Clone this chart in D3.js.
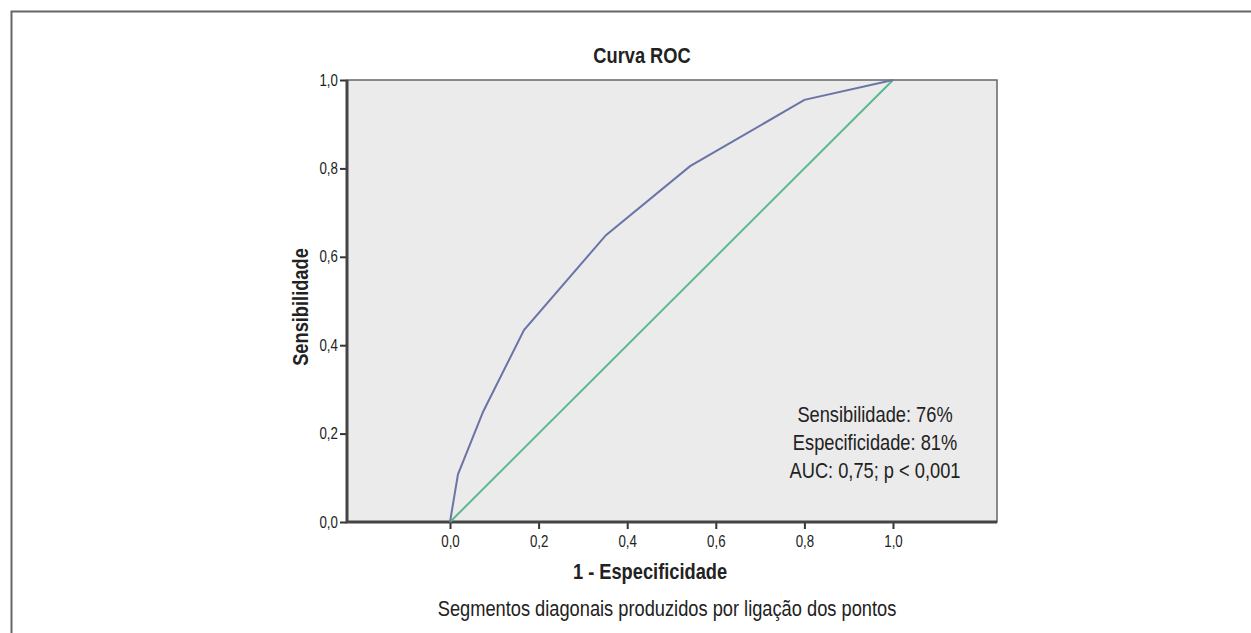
<!DOCTYPE html>
<html>
<head>
<meta charset="utf-8">
<script src="https://cdn.jsdelivr.net/npm/d3@7"></script>
<style>
  body { margin: 0; background: #fff; }
  text { font-family: "Liberation Sans", Arial, sans-serif; fill: #222; }
</style>
</head>
<body>
<script>
// ROC curve points (1 - especificidade, sensibilidade)
var fpr = [0, 0.018, 0.075, 0.167, 0.352, 0.542, 0.80, 1.0];
var tpr = [0, 0.108, 0.25, 0.434, 0.649, 0.805, 0.955, 1.0];
var refLine = [0, 1];
var tickVals = [0, 0.2, 0.4, 0.6, 0.8, 1.0];
var notes = ["Sensibilidade: 76%", "Especificidade: 81%", "AUC: 0,75; p < 0,001"];

var W = 1251, H = 633;
var squeeze = 0.83; // the original text is horizontally condensed

var svg = d3.select("body").append("svg")
    .attr("width", W)
    .attr("height", H);

// outer frame (only top and left visible)
svg.append("path")
    .attr("d", "M11.5," + H + "V11.5H" + W)
    .attr("fill", "none")
    .attr("stroke", "#666")
    .attr("stroke-width", 2);

var pLeft = 347, pRight = 997, pTop = 80, pBottom = 522;

var x = d3.scaleLinear().domain([0, 1]).range([450, 893]);
var y = d3.scaleLinear().domain([0, 1]).range([pBottom, pTop]);

// plot background
svg.append("rect")
    .attr("x", pLeft).attr("y", pTop)
    .attr("width", pRight - pLeft).attr("height", pBottom - pTop)
    .attr("fill", "#ebebeb")
    .attr("stroke", "#666")
    .attr("stroke-width", 1.5);

var fmt = function(d) { return d3.format(".1f")(d).replace(".", ","); };

// y axis
var gy = svg.append("g")
    .attr("transform", "translate(" + pLeft + ",0)")
    .call(d3.axisLeft(y).tickValues(tickVals).tickFormat(fmt).tickSize(7).tickPadding(4));
gy.select(".domain").remove();
gy.selectAll(".tick line").attr("stroke", "#333").attr("stroke-width", 2);
gy.selectAll(".tick text")
    .attr("font-size", 16).attr("fill", "#333")
    .attr("transform", "scale(" + squeeze + ",1)");

// x axis
var gx = svg.append("g")
    .attr("transform", "translate(0," + pBottom + ")")
    .call(d3.axisBottom(x).tickValues(tickVals).tickFormat(fmt).tickSize(7).tickPadding(7));
gx.select(".domain").remove();
gx.selectAll(".tick line").attr("stroke", "#333").attr("stroke-width", 2);
gx.selectAll(".tick text")
    .attr("font-size", 16).attr("fill", "#333")
    .attr("transform", "scale(" + squeeze + ",1)");

// thick axis lines on left and bottom
svg.append("path")
    .attr("d", "M" + pLeft + "," + pTop + "V" + pBottom + "H" + pRight)
    .attr("fill", "none")
    .attr("stroke", "#444")
    .attr("stroke-width", 3);

// reference diagonal
svg.append("path")
    .datum(refLine)
    .attr("d", d3.line().x(function(d) { return x(d); }).y(function(d) { return y(d); }))
    .attr("fill", "none")
    .attr("stroke", "#5cb98a")
    .attr("stroke-width", 2);

// ROC curve
svg.append("path")
    .datum(d3.range(fpr.length))
    .attr("d", d3.line().x(function(i) { return x(fpr[i]); }).y(function(i) { return y(tpr[i]); }))
    .attr("fill", "none")
    .attr("stroke", "#6a74a6")
    .attr("stroke-width", 2);

// condensed text helper
function label(tx, ty, str, size, bold, rot) {
  return svg.append("text")
      .attr("transform", "translate(" + tx + "," + ty + ")" + (rot ? " rotate(" + rot + ")" : "") +
            " scale(" + squeeze + ",1)")
      .attr("text-anchor", "middle")
      .attr("font-size", size)
      .attr("font-weight", bold ? "bold" : "normal")
      .text(str);
}

label(642, 63, "Curva ROC", 22, true);
label(650, 579, "1 - Especificidade", 22, true);
label(308, 307, "Sensibilidade", 22, true, -90);
label(667, 616, "Segmentos diagonais produzidos por ligação dos pontos", 22, false);

// annotation
notes.forEach(function(d, i) {
  label(875, 422 + i * 28, d, 22, false);
});
</script>
</body>
</html>
